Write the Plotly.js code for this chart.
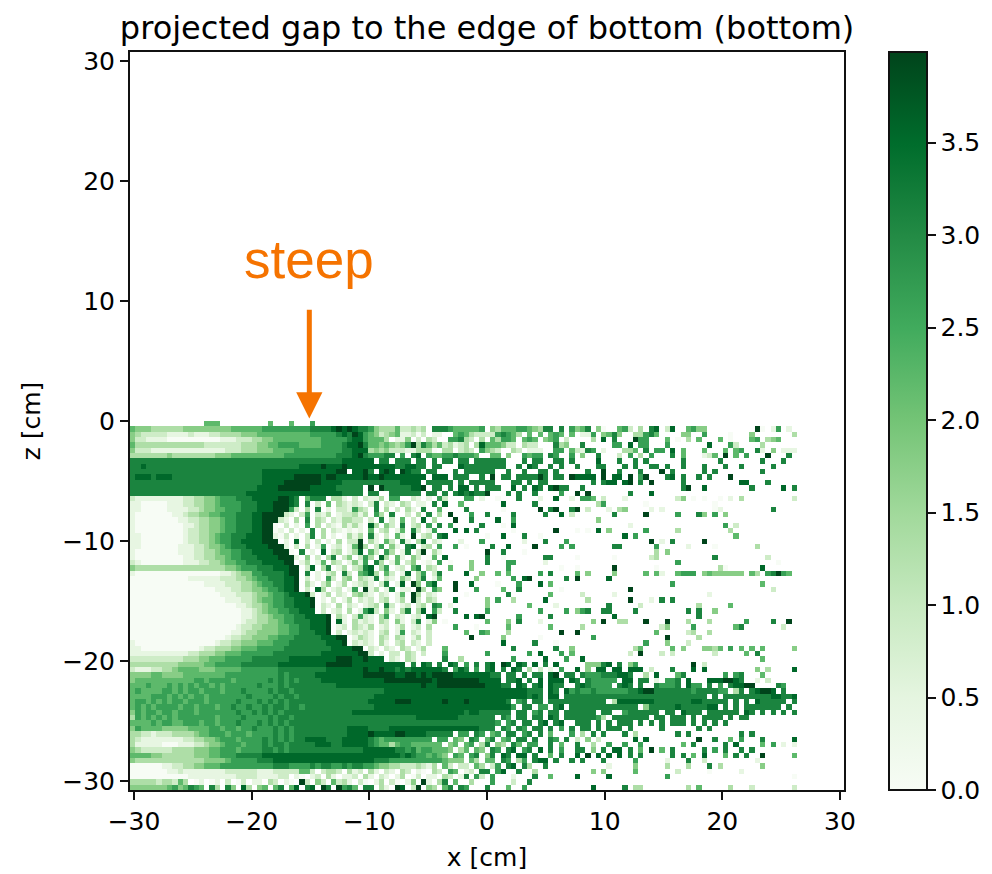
<!DOCTYPE html>
<html><head><meta charset="utf-8">
<script src="https://cdn.plot.ly/plotly-3.0.1.min.js"></script>
<style>html,body{margin:0;padding:0;background:#fff}</style></head>
<body><div id="chart" style="width:992px;height:874px"></div>
<script>
// Each char is a level; '.' = empty bin. Rows go from top (z=0) to bottom (z=-30.75).
// Spaces only split a row into column blocks (columns 0-58, 59-82, 83-125) for alignment.
const gridRows = [
"..............555.........5...5...6......... ....................................... ............................................",
"54443333334444444445555556666666667777898987 764333522323.7776555556.43555665437 7.7.6 6457.40..562.3.78.28..5644.........90.16.1..",
"43222221111211122333344455555555556666678798 654234511202.11..565322226765 3.5.5.565.6 5.116.4574..33675....44..6....0...4.......31",
"42211110000000000111222334455555555566666788 65553.11 4.2.32..66732.3.536 6 5.565.456.2 5. ....3.8.7...966...5.0.3.5...5.0...56.345...",
"53333333333333222222233344556666555566667889 755454346 93753 5231 23.3855542 2.322...734... ..7.....66.8.66...6.......8...62....3.......",
"42221111111111111122233344455556666666667788 8343422211333 0.33.232.643 2..32.111..66.. 52176.1...335.7.66.8.5...5...5.56..71.4.111.6",
"33333334333333334445555555555666666666677789 766677.6.78.6556676665..55.4..65 66.76. 6.4..7...2.6.3.6...7.5...125.9.5.6...9...7..",
"77777777777777777777777777777777777777778888 88.77.777.77.7.77.77.777777...7.77..77. 7....8...7..7.7......7......7.......7...7...",
"77877777777777777777777777777777888898889888 8888887788 77.77...877 77777 7..7.87..7.7.7. .7...77...7.7..77.7..7...7...7..7.....7....",
"77777777777777777777777778888888888888899.88 97.898.987 7.77...7.777777..7..7..77.7. ...7..9..7...7...9.7.....7.7........7.......",
"78887888777777777777777778888889999989988888 9889 88888888.888.777..7.9.77.7777 97.77.. 98888.9.88.9.69...78.7..7.7...9.............",
"77777777777777777777777778888999999988887777 7777777 8888.77777.7.7777 7...77.7.77.. ....7.788.89.7.9.....7..........88...7.......",
"77777777777777777777777788889999998888877777 .9.977777 889.77.7.88.7.77 7..8.7.87.8977 ..7..................79..8........7.....8.7.",
"77777777777777777777778888888888888888887777 .77..777777.77.7.787877 9...7.7..7....6. .9.9.......7...8.............................",
"21111111112233445666777888889987.5777.331.2 .2113.66..21.1.62 ...66.1..0...7...1..8.. 1.665.2...1.........24.0.0..0.1.3.........2.",
"11000001112233445666677788899987.7.2.5.321 21.27.21.32.11.7.. 8..5.......8.....7...... .....36.......0............0................",
"11000001111223445566677788899962.3.7.1.221 632.7.3.2.31.7..5. ....7......0......9.79.. 79.2...1.34....1.1.........01.........7.....",
"1000000011233445566677788999921.26.213.12 2313.63.7..2.3.7.3 .9...6..7....7.....7..8. 2.......7.....9.....6...74.6.4..............",
"100000000112233445667778899921.3.7.32.2133 22.2.7.2.5.2.8.3.. ..9..7....8..6.......... .....4......................................",
"1000000000112334456677788990.2.1.6.3.21031 31.83.42.7.23.6.7. .6.....7...0.8.......... ...........1.................6.2...........",
"10000000001223344566777889901.2.1.7.3.2101 01.5.23.15.72.16.. .8.8.7......0.......9.. .0.0.8.4......6.....3.........3.............",
"110000000012233456677788899102.1.27.3.1.03 13.71.2.51.9.23.7. 8.......0..8...7..0..... ..........8.6..................5............",
"1100000000122334566778888999.1.8.2.2.1.3.2 29.31.52.71.38.21 ...1...6.......1...7...6 ...............9.1.7.....9...................",
"110000000111223445677788889991.2.3.16.12.15 93.26.41.78.23.68 ..6.0....7..8....9....6. 6.......77......6.....1....0.......3........",
"1000000001112233455667788889990.7.1.8.23.13 8.52.63.17.29.31. ........9..7...0........ ................3.4...........................",
"10000000001122334456677788889991.4.2.37.24.2 63.83.51.42.05.21 8.......7..0.......77... .0......0......23..........7.........2.....",
"2100000000111223345566777888899.13.15.32.14 16.73.15.24.01.62 .0...4..7...66.....1.... ....................6..................0.....",
"43333333333333333344566677788899.28.37.13.23 78.36.12.57.32.51 .5...4......6.........0. .0......9.......0...........30......8......",
"10000000000000000112344667777899.7.1.23.72.56 83.52.18.36.27.1 ....8..4..5.5.....6.7... .5.4....4.....5.51..5666.45444444.53.67965..5",
"00000000000111111222334566777889.2.1.62.34.32 17.21.42.37.15.2 ......4......6.89......7 .9.....8.....................................",
"00000000000000111122233456677889.31.24.13.12 31.27.18.94.68.5 ..9..8....0...6...8.5... ...................6................5........",
"00000000000000001112233445667889.2.83.12.16.9 13.17.11.93.64. ..9...6....5..7.......0. ...........9..........................2......",
"00000000000000000111222344566788892.13.21.34 21.21.15.93.21.6 ....0.......7.......5... ..2.....1.................1..................",
"00000000000000000011122345566778889.1.2.13.2 12.23.13.92.32.5 ..8.....4.6..3.....8.... ...3.......9...1.7.7.......................3.",
"00000000000000000000112334566778889.21.3.21.1 23.72.12.23.76. .1......4.......5....1.. .......7.....2..........3.....5..............",
"00000000000000000000011234556677888.2.12.3.16 82.41.37.38.62. ..7.....6.........6....6 .467..77....7.........7.7..4..................",
"00000000000000000000011233455667788889.31.26 21.36.21.12.89 ....8.89......6.....7... ........8...............7.....................",
"00000000000000000000012233445667778889.81.31 21.32.41.27.14 0.......5...4.7...1..... ....4.9..33...9...9...3...3......6....7..9....",
"00000000000000000000122334445566778889.12.32 13.12.13.12.3 ..6...0.....5.......5... ..3..............24....6.......57.......2.....",
"00000000000000000001123344445566777889.2.121 21.23.16.21.2 ....5..65...3.........9. .9..............5.....23..3...................",
"00000000000000000012233444556667777788899.13 21.32.32.13.2 .....9.....4......0..... ....6.............9.....3.....................",
"10000000000000001223344455566677777778889.21 21.31.23.21.2 ...........8.....7...0.. ..............6...4...2.......................",
"11000000000001223334455566666777777777888899 .21.21.32.13 5............7.......7.. 4...........35.....5.4...4435.6.5.5.5.....4..",
"11111111111223334455566666677777777788888889 92.1.22.32.2 6.......6.......6.8...6. 5..........2.9...2.2.......2.....5.7.........",
"22222222223334455566666777777788888888899988 9888.21.32. 7..3.........6.....8...6 ..8.................................5.........",
"33333333344444556666677777778888888889999988 88888888.7.87.7.87.6.7.78.98.87.8.7.8. ...44478.7.46..........9.2.....................",
"21112233455554445555566666667777777778888888 9889887878888887.687.6.78.7.87.3.2.1.6. .8.4.88.88.888.2...7...8.8.........4.3....8...",
"44445544445555555566666666667677777888888888 99999988998989999888888877.77.7.77.89.7 7.7666777887..3.8...57.......6.67...5.........",
"45555555555566566665666666767676777788888888 88889999999998999999998888.778.7.8.888.8 87.766666.88.77.1.667.8...8889987..1.2.......",
"55565556565656656566666676667677777777788888 8888888888898899999999988877.87.78.877.7 .7876666.787.7..76667.866.7.6.78899....76..8.",
"56555566565665666566676666767767777777777777 7777888888888888888888888888888777.87.88 676676666667789977777776777766.37.78998.7.....",
"55556665656566566666667666676776777777777777 7788888888888888888888888888888787.88.78 77777777777777777777777777.7.7777777778877888.6",
"56656565665666566666766676767677777777777777 7888889998888889888988888887.67.77.7777 7777777.3888888877777778877777.7.7.877777.7.88",
"56565666656656665667667667677677677777777777 77888888888888888888888888886.77.66.78 7777777777777.47777787777788.7.7.7777777.7.7.",
"46566566566656666666766767676777777777777788 8888888888888888888788777777.77.67.77.7 77777.77..6777777.77.8777.777777.87.7.7.7.7..",
"36565656566666665666676666767767777777777777 7777777777888888887777777.76.77.77.87.7 7777763.7777777.77.777.7.7777.7.77...........",
"55556566556665665666766676767677777777777777 77777777777777777777777776.67.77.78.78. .777.7.7.777.7.7.7.777.7.7.7.7...............",
"46555544444555566566566766676767777777777888 8777788888888888888888777.76.76.77.7.6 7.77.7.777.7.....7......7.7..................",
"33221222333345566656665666676767777777777888 89888899888877777.66.76.56.77.67.7.5.. 6.3.7.7...7.3.......7.7.........7.7..........",
"32111111112233445666566667676767788887778888 8765666666666.66.54.76.57.56.77.7..76.7 .2.4.2......8.8.........9..7..5.6...7.....8..",
"31111100011122344566656667677677777888778888 876553566555555.45.56.37.43.75.66..7.5. .7..3..6..6..6.......5.7.....7.8....5.6.1.1..",
"43222222333344455666566667767677777777777777 88888877675665554.35.54.76.78.67.8.7.6. .77.4.7.88.7.5.9.5.7.....7.6.7..7.7..........",
"55554433333344455666777778888888888888888888 8888888787665654.65.67.47.87.88.7..5.7. .8.9.8.8.8.7.7.....7.7.5.8...5.7.7..9.....5..",
"43333333333333444456666677788888888888888888 8877766666666665444.53.55.76.36.788.7.. 7.7...7.....6.....1...7..2.........1..........",
"00000011223344555666666666677766667677667677 66544332223213.52.22.53.26.78.73..7.... .......1....4.....3...3...7.3.......4.........",
"00000001121111111122222211122222552.2332.31 2.31.21.32.10.32.65.12.77.68..7..3..... ....4.4.....5.......2.....0.....1.............",
"000000000001111111112222111122.10.12.31.1 12.31.21.13.02.11.32.17.62.6...1...7..5 .8.....8..........6.......................0..",
"33333233253.01.01.2.02.11.32.10.92.42.52 31.20.13.20.14.91.37.5..3...6...2..7... ...............................................",
"44444445645765.73.74.83.45.57.58.78.97.96 75.77.31.98.29.43.57.76...7...5..6.... ....8.....7.33........3.5.....3...2.......2..."
];
const zMax = 3.99;
const zStep = zMax / 9;
const cbTicks = [0, 0.5, 1, 1.5, 2, 2.5, 3, 3.5];
const axisTicks = [-30, -20, -10, 0, 10, 20, 30];
const nCols = 126, headCols = 59, tailCols = 24;
const greens = [[0,"#f7fcf5"],[0.125,"#e5f5e0"],[0.25,"#c7e9c0"],[0.375,"#a1d99b"],[0.5,"#74c476"],[0.625,"#41ab5d"],[0.75,"#238b45"],[0.875,"#006d2c"],[1,"#00441b"]];

const fit = (s, n) => s.slice(0, n).padEnd(n, ".");
const z = gridRows.slice().reverse().map(r => {
  const t = r.split(" ");
  const right = t[t.length - 1];
  const s = t.length === 4 && t[2].length === tailCols
    ? fit(t[0] + t[1], headCols) + t[2] + right
    : fit(t.slice(0, -1).join(""), headCols + tailCols) + right;
  const out = [];
  for (let i = 0; i < nCols; i++) {
    const c = s[i];
    out.push(c === undefined || c === "." ? null : Number(c) * zStep);
  }
  return out;
});
const dx = 0.45, dy = 30.75 / gridRows.length;
const font = {family: "DejaVu Sans, sans-serif", size: 25, color: "#000"};
const ax = {range: [-30.34, 30.34], tickvals: axisTicks, ticks: "outside", ticklen: 8, tickwidth: 1.7, tickcolor: "#111",
  showline: true, mirror: true, linecolor: "#111", linewidth: 2, showgrid: false, zeroline: false, tickfont: font};
Plotly.newPlot("chart", [{
  type: "heatmap", z: z, x0: -30.34 + dx / 2, dx: dx, y0: -30.75 + dy / 2, dy: dy,
  zmin: 0, zmax: zMax, colorscale: greens, zsmooth: false, hoverongaps: false,
  colorbar: {thickness: 38, len: 1, lenmode: "fraction", y: 0, yanchor: "bottom", ypad: 0, xpad: 0, x: 1.063, xanchor: "left",
    tickvals: cbTicks, tickformat: ".1f", ticks: "outside", ticklen: 8, tickwidth: 1.7, tickcolor: "#111",
    outlinecolor: "#111", outlinewidth: 2, tickfont: font}
}], {
  width: 992, height: 874, paper_bgcolor: "#fff", plot_bgcolor: "#fff",
  margin: {l: 130, r: 148, t: 52, b: 84, autoexpand: false},
  title: {text: "projected gap to the edge of bottom (bottom)", font: {family: font.family, size: 32, color: "#000"},
    x: 0.491, xanchor: "center", y: 0.968, yanchor: "middle"},
  xaxis: Object.assign({}, ax, {title: {text: "x [cm]", font: font, standoff: 13}}),
  yaxis: Object.assign({}, ax, {range: [-30.75, 30.75], title: {text: "z [cm]", font: font, standoff: 14}}),
  annotations: [
    {x: -15.1, y: 13.5, xref: "x", yref: "y", text: "steep", showarrow: false,
     font: {family: "Liberation Sans, Arial, sans-serif", size: 53, color: "#f57300"}},
    {x: -15.1, y: 0.2, xref: "x", yref: "y", ax: -15.1, ay: 9.4, axref: "x", ayref: "y", text: "",
     showarrow: true, arrowhead: 2, arrowsize: 1.05, arrowwidth: 5, arrowcolor: "#f57300"}
  ]
}, {displayModeBar: false});
</script></body></html>
